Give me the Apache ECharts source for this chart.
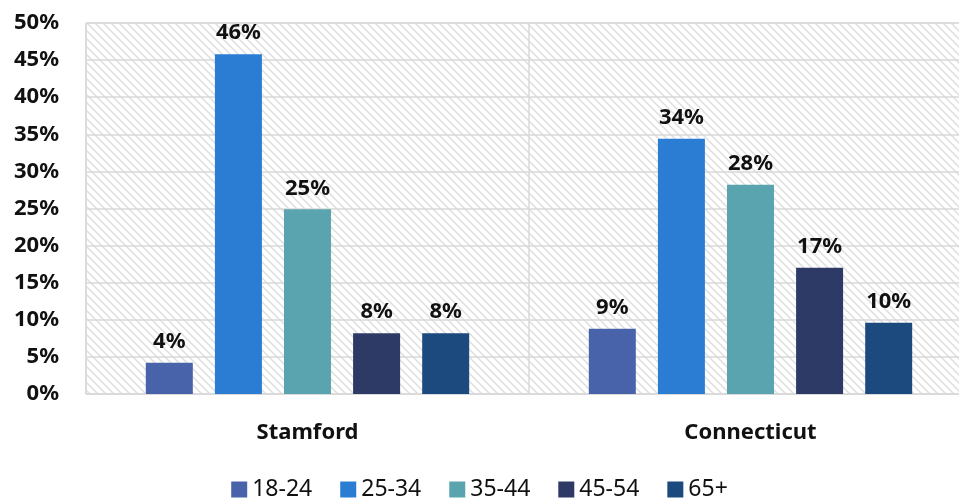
<!DOCTYPE html>
<html>
<head>
<meta charset="utf-8">
<script src="https://cdn.jsdelivr.net/npm/echarts@6/dist/echarts.min.js"></script>
<style>html,body{margin:0;padding:0;background:#fff}#c{width:959px;height:500px}</style>
</head>
<body>
<div id="c"></div>
<script>
const categories = ['Stamford', 'Connecticut'];
const seriesNames = ['18-24', '25-34', '35-44', '45-54', '65+'];
const v1824 = [4.2, 8.8];
const v2534 = [45.8, 34.4];
const v3544 = [24.9, 28.2];
const v4554 = [8.2, 17.0];
const v65 = [8.2, 9.6];
const colors = ['#4963AB', '#2B7CD3', '#59A4AE', '#2D3A65', '#1C4A7F'];
const yTicks = [0, 5, 10, 15, 20, 25, 30, 35, 40, 45, 50];

const values = [v1824, v2534, v3544, v4554, v65];

const pc = document.createElement('canvas');
pc.width = 8; pc.height = 8;
const g = pc.getContext('2d');
g.fillStyle = '#ffffff'; g.fillRect(0, 0, 8, 8);
g.strokeStyle = '#dedede'; g.lineWidth = 1.5;
g.beginPath();
g.moveTo(-1, -1); g.lineTo(9, 9);
g.moveTo(-5, 3); g.lineTo(5, 13);
g.moveTo(3, -5); g.lineTo(13, 5);
g.stroke();

const chart = echarts.init(document.getElementById('c'));
const font = 'Noto Sans, Liberation Sans, sans-serif';
chart.setOption({
  animation: false,
  grid: {left: 86, width: 886, top: 23, height: 371, show: true, outerBoundsMode: 'none', containLabel: false,
    backgroundColor: {image: pc, repeat: 'repeat'}, borderColor: '#d9d9d9', borderWidth: 1},
  legend: {top: 473, left: 'center', itemWidth: 16, itemHeight: 16, itemGap: 28, icon: 'rect',
    textStyle: {fontFamily: font, fontSize: 23, color: '#111'}, data: seriesNames},
  xAxis: {type: 'category', data: categories,
    axisLine: {show: true, lineStyle: {color: '#d9d9d9'}},
    axisTick: {show: false},
    splitLine: {show: true, lineStyle: {color: '#d9d9d9', width: 1.5}},
    axisLabel: {fontFamily: font, fontSize: 22, fontWeight: 'bold', color: '#111', margin: 28}},
  yAxis: {type: 'value', min: 0, max: 50, interval: 5,
    axisLine: {show: false}, axisTick: {show: false},
    splitLine: {lineStyle: {color: '#d9d9d9', width: 1.5}},
    axisLabel: {fontFamily: font, fontSize: 22, fontWeight: 'bold', color: '#111', margin: 27,
      formatter: v => yTicks.includes(v) ? v + '%' : ''}},
  series: seriesNames.map((n, i) => ({
    name: n, type: 'bar', data: values[i], barWidth: 47, barGap: '47%',
    itemStyle: {color: colors[i]},
    label: {show: true, position: 'top', distance: 10, fontFamily: font, fontSize: 22, fontWeight: 'bold', color: '#111',
      formatter: p => Math.round(p.value) + '%'}
  }))
});
</script>
</body>
</html>
